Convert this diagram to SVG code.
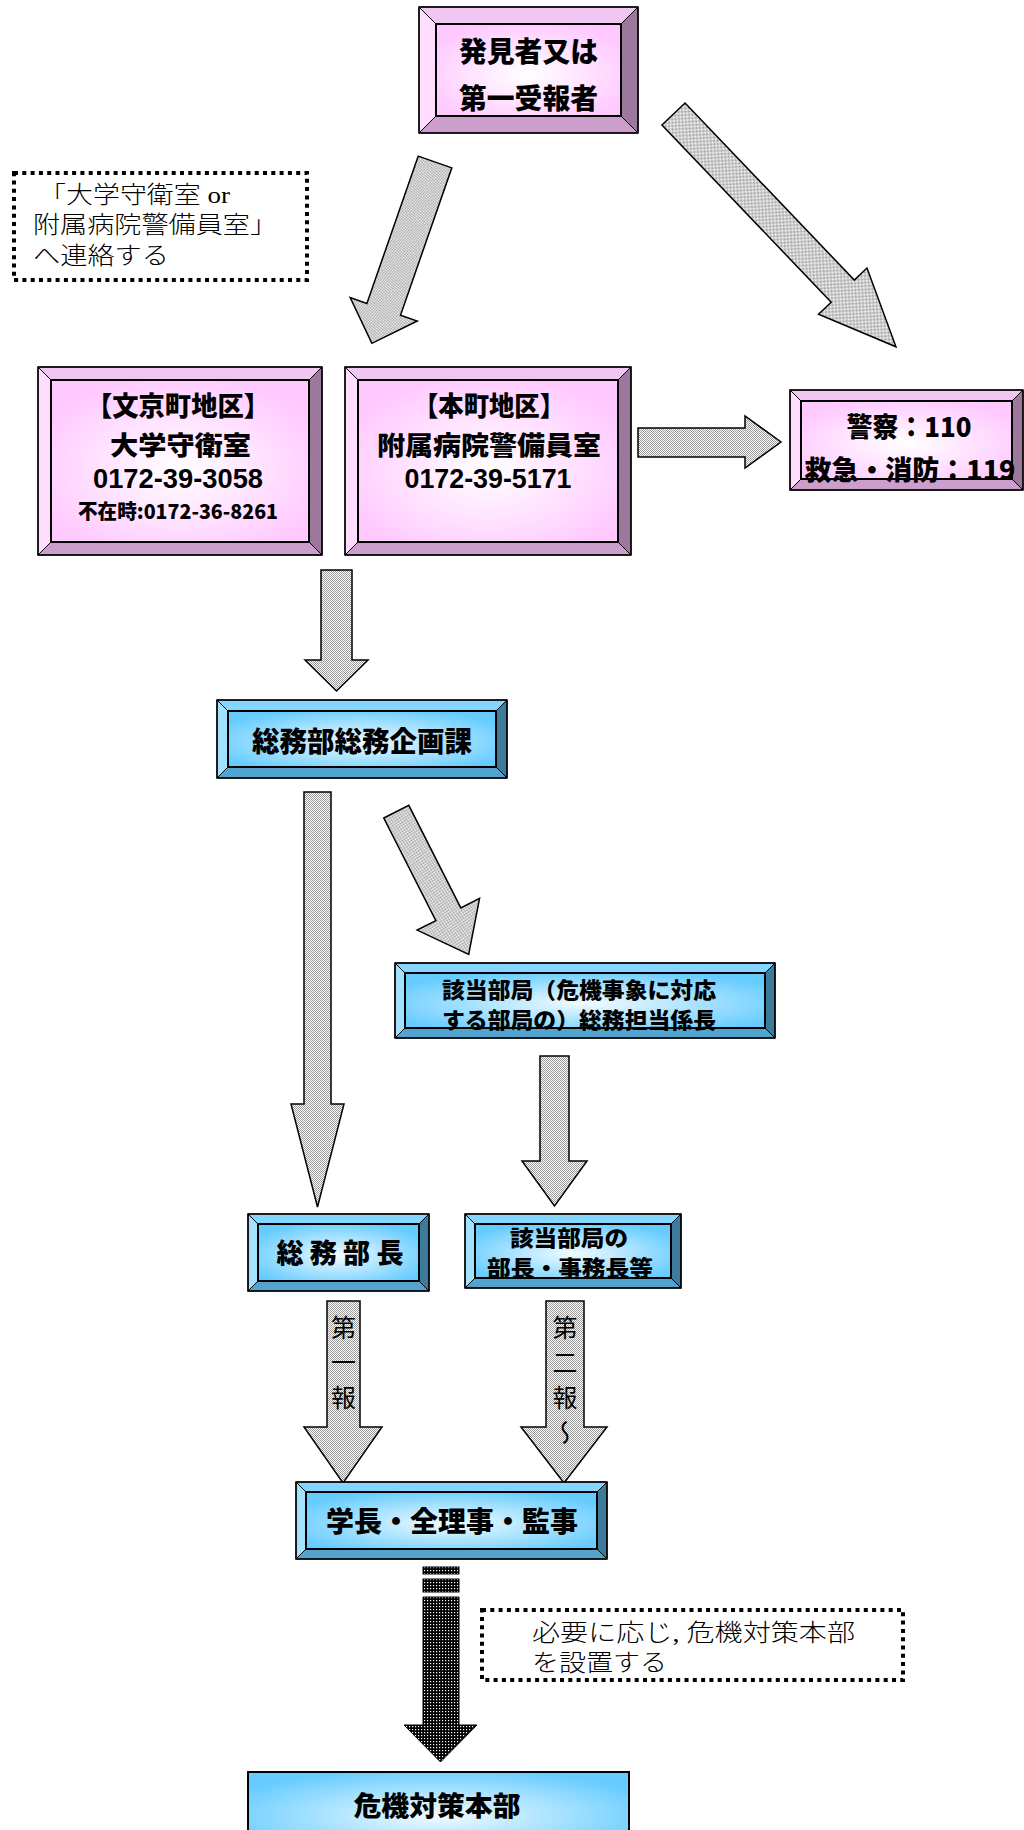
<svg xmlns="http://www.w3.org/2000/svg" width="1024" height="1830" viewBox="0 0 1024 1830">
<defs>
<style>
.pt{fill:#F2C6F2}.pl{fill:#FFDDFF}.pr{fill:#9C789C}.pb{fill:#CC9ECC}
.bt{fill:#84D5FF}.bl{fill:#A3E1FF}.br{fill:#3E7B9B}.bb{fill:#52A4CE}
.bev polygon{stroke:#000;stroke-width:1;stroke-linejoin:miter}
.fp{fill:url(#gp);stroke:#000;stroke-width:2}
.fb{fill:url(#gb);stroke:#000;stroke-width:2}
.ob{fill:none;stroke:#000;stroke-width:1.5}
.g{font-family:"Noto Sans CJK JP","Noto Sans CJK SC",sans-serif;font-weight:900;fill:#000;text-anchor:middle}
.d{font-family:"Liberation Sans",Arial,sans-serif;font-weight:700;fill:#000;text-anchor:middle}
.m{font-family:"Liberation Serif","Noto Sans CJK JP",serif;font-weight:300;fill:#000;font-size:24px}
.v{font-family:"Noto Sans CJK JP",sans-serif;font-weight:400;fill:#000;font-size:25px;writing-mode:vertical-rl;letter-spacing:10px}
.arr{fill:url(#chk);stroke:#000;stroke-width:1.5;stroke-linejoin:miter}
.dark{fill:url(#dk);stroke:#000;stroke-width:1}
.dot{fill:none;stroke:#000;stroke-width:4;stroke-dasharray:4 4.3}
</style>
<radialGradient id="gp" cx="0.5" cy="0.55" r="0.6">
<stop offset="0" stop-color="#FFFFFF"/><stop offset="1" stop-color="#FFC8FF"/>
</radialGradient>
<radialGradient id="gb" cx="0.5" cy="0.55" r="0.6">
<stop offset="0" stop-color="#F2FBFF"/><stop offset="1" stop-color="#66CCFF"/>
</radialGradient>
<pattern id="chk" width="2" height="2" patternUnits="userSpaceOnUse">
<rect width="2" height="2" fill="#FFFFFF"/><rect width="1" height="1" fill="#999999"/><rect x="1" y="1" width="1" height="1" fill="#999999"/>
</pattern>
<pattern id="dk" width="3" height="3" patternUnits="userSpaceOnUse">
<rect width="3" height="3" fill="#000"/><rect x="1" y="1" width="1.2" height="1.2" fill="#FFF"/>
</pattern>
</defs>
<rect width="1024" height="1830" fill="#FFFFFF"/>

<g id="connectors">
<polygon class="arr" transform="translate(435,162) rotate(19.2)" points="-17.8,0 17.8,0 17.8,156 35.5,156 0,192 -35.5,156 -17.8,156"/>
<polygon class="arr" transform="translate(673.5,114) rotate(-43.7)" points="-16,0 16,0 16,245 33.5,245 0,322 -33.5,245 -16,245"/>
<polygon class="arr" points="638,428 745,428 745,416 781,442 745,468 745,457 638,457"/>
<polygon class="arr" points="321,570 352,570 352,660 368,660 336.5,691 305,660 321,660"/>
<polygon class="arr" points="304,792 331,792 331,1104 344,1104 317.5,1207 291,1104 304,1104"/>
<polygon class="arr" transform="translate(396.3,811.7) rotate(-26.9)" points="-14,0 14,0 14,115 35,115 0,160 -35,115 -14,115"/>
<polygon class="arr" points="540,1056 569,1056 569,1161 587,1161 554.5,1206 522,1161 540,1161"/>
<polygon class="arr" points="327,1301 360,1301 360,1427 382,1427 343,1483 304,1427 327,1427"/>
<polygon class="arr" points="546,1301 584,1301 584,1427 607,1427 564,1483 521,1427 546,1427"/>
<rect class="dark" x="423" y="1567" width="36" height="7"/>
<rect class="dark" x="423" y="1579" width="36" height="13"/>
<polygon class="dark" points="423,1597 459,1597 459,1725 477,1725 440.5,1762 404,1725 423,1725"/>
<text class="v" x="343.5" y="1315">第一報</text>
<text class="v" x="565" y="1315">第二報～</text>
</g>

<g id="note1">
<rect class="dot" x="14" y="173" width="293" height="107"/>
<text class="m"><tspan x="39" y="203" textLength="191" lengthAdjust="spacingAndGlyphs">「大学守衛室 or</tspan><tspan x="33" y="233" textLength="244" lengthAdjust="spacingAndGlyphs">附属病院警備員室」</tspan><tspan x="33" y="264" textLength="136" lengthAdjust="spacingAndGlyphs">へ連絡する</tspan></text>
</g>

<g id="note2">
<rect class="dot" x="482" y="1610" width="421" height="70"/>
<text class="m" font-size="25"><tspan x="532" y="1641" textLength="323" lengthAdjust="spacingAndGlyphs">必要に応じ, 危機対策本部</tspan><tspan x="532" y="1671" textLength="135" lengthAdjust="spacingAndGlyphs">を設置する</tspan></text>
</g>

<g id="node-hakken" class="bev">
<polygon class="pt" points="419,7 638,7 621,24 436,24"/>
<polygon class="pl" points="419,7 436,24 436,116 419,133"/>
<polygon class="pr" points="638,7 638,133 621,116 621,24"/>
<polygon class="pb" points="419,133 436,116 621,116 638,133"/>
<rect class="fp" x="436" y="24" width="185" height="92"/>
<rect class="ob" x="419" y="7" width="219" height="126"/>
<text class="g" font-size="28"><tspan x="528.5" y="62" textLength="139" lengthAdjust="spacingAndGlyphs">発見者又は</tspan><tspan x="528.5" y="109" textLength="139" lengthAdjust="spacingAndGlyphs">第一受報者</tspan></text>
</g>

<g id="node-bunkyo" class="bev">
<polygon class="pt" points="38,367 322,367 309,380 51,380"/>
<polygon class="pl" points="38,367 51,380 51,542 38,555"/>
<polygon class="pr" points="322,367 322,555 309,542 309,380"/>
<polygon class="pb" points="38,555 51,542 309,542 322,555"/>
<rect class="fp" x="51" y="380" width="258" height="162"/>
<rect class="ob" x="38" y="367" width="284" height="188"/>
<text class="g" font-size="27"><tspan x="178" y="416" textLength="184" lengthAdjust="spacingAndGlyphs">【文京町地区】</tspan><tspan x="180.5" y="455" font-size="26" textLength="141" lengthAdjust="spacingAndGlyphs">大学守衛室</tspan></text>
<text class="d" font-size="28" x="178" y="488" textLength="170" lengthAdjust="spacingAndGlyphs">0172-39-3058</text>
<text class="g" font-size="20" x="178" y="519" textLength="200" lengthAdjust="spacingAndGlyphs">不在時:0172-36-8261</text>
</g>

<g id="node-honcho" class="bev">
<polygon class="pt" points="345,367 631,367 618,380 358,380"/>
<polygon class="pl" points="345,367 358,380 358,542 345,555"/>
<polygon class="pr" points="631,367 631,555 618,542 618,380"/>
<polygon class="pb" points="345,555 358,542 618,542 631,555"/>
<rect class="fp" x="358" y="380" width="260" height="162"/>
<rect class="ob" x="345" y="367" width="286" height="188"/>
<text class="g" font-size="27"><tspan x="489" y="416" textLength="152" lengthAdjust="spacingAndGlyphs">【本町地区】</tspan><tspan x="489" y="455" font-size="26" textLength="224" lengthAdjust="spacingAndGlyphs">附属病院警備員室</tspan></text>
<text class="d" font-size="28" x="488" y="488" textLength="167" lengthAdjust="spacingAndGlyphs">0172-39-5171</text>
</g>

<g id="node-police" class="bev">
<polygon class="pt" points="790,390 1023,390 1012,401 801,401"/>
<polygon class="pl" points="790,390 801,401 801,479 790,490"/>
<polygon class="pr" points="1023,390 1023,490 1012,479 1012,401"/>
<polygon class="pb" points="790,490 801,479 1012,479 1023,490"/>
<rect class="fp" x="801" y="401" width="211" height="78"/>
<rect class="ob" x="790" y="390" width="233" height="100"/>
<text class="g" font-size="27"><tspan x="909" y="437" textLength="125" lengthAdjust="spacingAndGlyphs">警察：110</tspan><tspan x="910" y="480" textLength="211" lengthAdjust="spacingAndGlyphs">救急・消防：119</tspan></text>
</g>

<g id="node-somukikaku" class="bev">
<polygon class="bt" points="217,700 507,700 496,711 228,711"/>
<polygon class="bl" points="217,700 228,711 228,767 217,778"/>
<polygon class="br" points="507,700 507,778 496,767 496,711"/>
<polygon class="bb" points="217,778 228,767 496,767 507,778"/>
<rect class="fb" x="228" y="711" width="268" height="56"/>
<rect class="ob" x="217" y="700" width="290" height="78"/>
<text class="g" font-size="28" x="362" y="752" textLength="220" lengthAdjust="spacingAndGlyphs">総務部総務企画課</text>
</g>

<g id="node-gaito" class="bev">
<polygon class="bt" points="395,963 775,963 765,973 405,973"/>
<polygon class="bl" points="395,963 405,973 405,1028 395,1038"/>
<polygon class="br" points="775,963 775,1038 765,1028 765,973"/>
<polygon class="bb" points="395,1038 405,1028 765,1028 775,1038"/>
<rect class="fb" x="405" y="973" width="360" height="55"/>
<rect class="ob" x="395" y="963" width="380" height="75"/>
<text class="g" font-size="22"><tspan x="579" y="998" textLength="274" lengthAdjust="spacingAndGlyphs">該当部局（危機事象に対応</tspan><tspan x="579" y="1028" textLength="274" lengthAdjust="spacingAndGlyphs">する部局の）総務担当係長</tspan></text>
</g>

<g id="node-somubucho" class="bev">
<polygon class="bt" points="248,1214 429,1214 419,1224 258,1224"/>
<polygon class="bl" points="248,1214 258,1224 258,1281 248,1291"/>
<polygon class="br" points="429,1214 429,1291 419,1281 419,1224"/>
<polygon class="bb" points="248,1291 258,1281 419,1281 429,1291"/>
<rect class="fb" x="258" y="1224" width="161" height="57"/>
<rect class="ob" x="248" y="1214" width="181" height="77"/>
<text class="g" font-size="27" x="340" y="1263" textLength="127" lengthAdjust="spacingAndGlyphs">総 務 部 長</text>
</g>

<g id="node-gaitobucho" class="bev">
<polygon class="bt" points="465,1214 681,1214 671,1224 475,1224"/>
<polygon class="bl" points="465,1214 475,1224 475,1278 465,1288"/>
<polygon class="br" points="681,1214 681,1288 671,1278 671,1224"/>
<polygon class="bb" points="465,1288 475,1278 671,1278 681,1288"/>
<rect class="fb" x="475" y="1224" width="196" height="54"/>
<rect class="ob" x="465" y="1214" width="216" height="74"/>
<text class="g" font-size="22"><tspan x="569" y="1246" textLength="118" lengthAdjust="spacingAndGlyphs">該当部局の</tspan><tspan x="570" y="1276" textLength="166" lengthAdjust="spacingAndGlyphs">部長・事務長等</tspan></text>
</g>

<g id="node-gakucho" class="bev">
<polygon class="bt" points="296,1482 607,1482 597,1492 306,1492"/>
<polygon class="bl" points="296,1482 306,1492 306,1549 296,1559"/>
<polygon class="br" points="607,1482 607,1559 597,1549 597,1492"/>
<polygon class="bb" points="296,1559 306,1549 597,1549 607,1559"/>
<rect class="fb" x="306" y="1492" width="291" height="57"/>
<rect class="ob" x="296" y="1482" width="311" height="77"/>
<text class="g" font-size="28" x="452" y="1532" textLength="252" lengthAdjust="spacingAndGlyphs">学長・全理事・監事</text>
</g>

<g id="node-honbu">
<rect x="248" y="1772" width="381" height="80" fill="url(#gb)" stroke="#000" stroke-width="2"/>
<text class="g" font-size="27" font-weight="500" x="437" y="1816" textLength="167" lengthAdjust="spacingAndGlyphs">危機対策本部</text>
</g>
</svg>
